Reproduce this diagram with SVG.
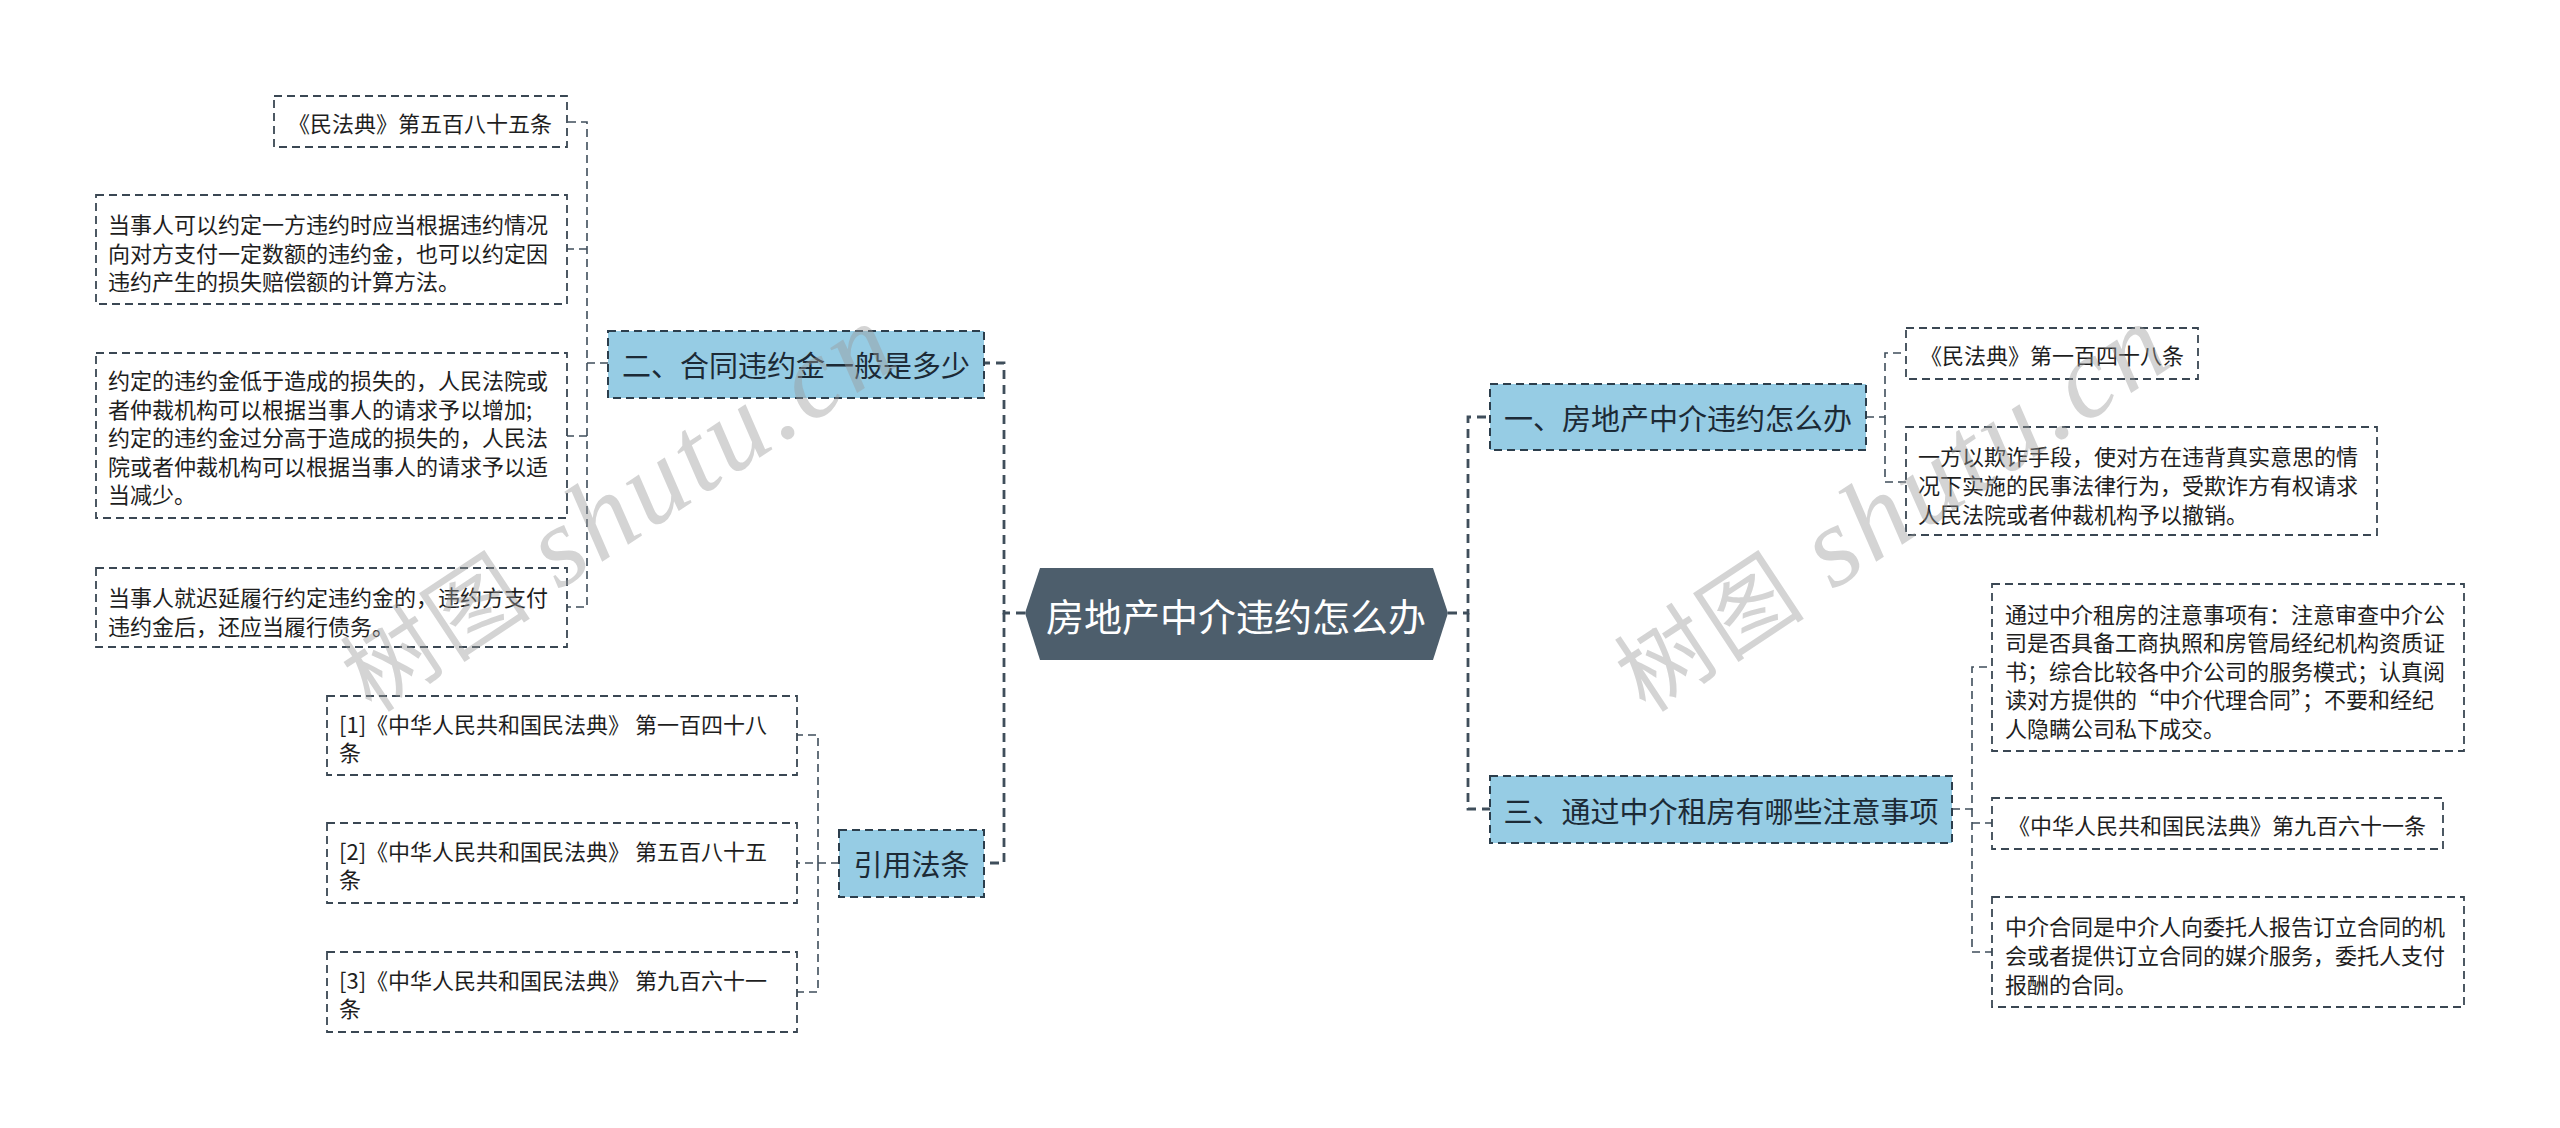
<svg xmlns="http://www.w3.org/2000/svg" width="2560" height="1128" viewBox="0 0 2560 1128">
<style>
  .bg { fill: #ffffff; }
  .leaf { fill: none; stroke: #3a4753; stroke-width: 1.8; stroke-dasharray: 8 5; }
  .topic { fill: #96cce4; stroke: #2c3e4c; stroke-width: 2; stroke-dasharray: 8 5; }
  .root { fill: #4d5e6c; }
  .t { font-family: 'Noto Sans CJK SC', 'Noto Sans', sans-serif; fill: #1e1e1e; font-size: 22px; dominant-baseline: central; }
  .tt { font-family: 'Noto Sans CJK SC', 'Noto Sans', sans-serif; fill: #1c2a36; font-size: 29px; dominant-baseline: central; text-anchor: middle; }
  .rt { font-family: 'Noto Sans CJK SC', 'Noto Sans', sans-serif; fill: #ffffff; font-size: 38px; dominant-baseline: central; text-anchor: middle; }
  .c1 { fill: none; stroke: #3f4e5b; stroke-width: 2.8; stroke-dasharray: 9 6; }
  .c2 { fill: none; stroke: #3f4e5b; stroke-width: 1.6; stroke-dasharray: 8 5; }
  .wm { font-family: 'Liberation Serif', 'Noto Sans CJK SC', serif; font-size: 94px; fill: #9a9a9a; opacity: 0.42; }
  .wl { font-family: 'Liberation Serif', serif; font-style: italic; font-size: 114px; }
</style>
<rect class="bg" x="0" y="0" width="2560" height="1128"/>

<g id="connectors">
  <path class="c1" d="M1025,613 H1004 V363 H984"/>
  <path class="c1" d="M1004,613 V863 H984"/>
  <path class="c1" d="M1448,613 H1468 V417 H1490"/>
  <path class="c1" d="M1468,613 V809 H1490"/>
  <path class="c2" d="M608,363 H587 V122 H567"/>
  <path class="c2" d="M587,249 H567"/>
  <path class="c2" d="M587,363 V607 H567"/>
  <path class="c2" d="M587,436 H567"/>
  <path class="c2" d="M839,863 H797"/>
  <path class="c2" d="M818,863 V735 H797"/>
  <path class="c2" d="M818,863 V992 H797"/>
  <path class="c2" d="M1866,417 H1885 V353 H1906"/>
  <path class="c2" d="M1885,417 V482 H1906"/>
  <path class="c2" d="M1952,809 H1972 V667 H1992"/>
  <path class="c2" d="M1972,809 V952 H1992"/>
  <path class="c2" d="M1972,823 H1992"/>
</g>

<g id="root">
  <polygon class="root" points="1025,613 1040,568 1433,568 1448,613 1433,660 1040,660"/>
  <text class="rt" x="1236" y="614">房地产中介违约怎么办</text>
</g>

<g id="topic-2">
  <rect class="topic" x="608" y="331" width="376" height="67"/>
  <text class="tt" x="796" y="364">二、合同违约金一般是多少</text>
</g>
<g id="leaf-2-1">
  <rect class="leaf" x="274" y="96" width="293" height="51"/>
  <text class="t" x="288" y="122">《民法典》第五百八十五条</text>
</g>
<g id="leaf-2-2">
  <rect class="leaf" x="96" y="195" width="471" height="109"/>
  <text class="t" x="108" y="223">当事人可以约定一方违约时应当根据违约情况</text>
  <text class="t" x="108" y="252">向对方支付一定数额的违约金，也可以约定因</text>
  <text class="t" x="108" y="280">违约产生的损失赔偿额的计算方法。</text>
</g>
<g id="leaf-2-3">
  <rect class="leaf" x="96" y="353" width="471" height="165"/>
  <text class="t" x="108" y="379">约定的违约金低于造成的损失的，人民法院或</text>
  <text class="t" x="108" y="408">者仲裁机构可以根据当事人的请求予以增加;</text>
  <text class="t" x="108" y="436">约定的违约金过分高于造成的损失的，人民法</text>
  <text class="t" x="108" y="465">院或者仲裁机构可以根据当事人的请求予以适</text>
  <text class="t" x="108" y="493">当减少。</text>
</g>
<g id="leaf-2-4">
  <rect class="leaf" x="96" y="568" width="471" height="79"/>
  <text class="t" x="108" y="596">当事人就迟延履行约定违约金的，违约方支付</text>
  <text class="t" x="108" y="625">违约金后，还应当履行债务。</text>
</g>

<g id="topic-refs">
  <rect class="topic" x="839" y="830" width="145" height="67"/>
  <text class="tt" x="911.5" y="863">引用法条</text>
</g>
<g id="ref-1">
  <rect class="leaf" x="327" y="696" width="470" height="79"/>
  <text class="t" x="339" y="723">[1]《中华人民共和国民法典》 第一百四十八</text>
  <text class="t" x="339" y="751">条</text>
</g>
<g id="ref-2">
  <rect class="leaf" x="327" y="823" width="470" height="80"/>
  <text class="t" x="339" y="850">[2]《中华人民共和国民法典》 第五百八十五</text>
  <text class="t" x="339" y="878">条</text>
</g>
<g id="ref-3">
  <rect class="leaf" x="327" y="952" width="470" height="80"/>
  <text class="t" x="339" y="979">[3]《中华人民共和国民法典》 第九百六十一</text>
  <text class="t" x="339" y="1007">条</text>
</g>

<g id="topic-1">
  <rect class="topic" x="1490" y="384" width="376" height="66"/>
  <text class="tt" x="1678" y="417">一、房地产中介违约怎么办</text>
</g>
<g id="leaf-1-1">
  <rect class="leaf" x="1906" y="328" width="292" height="51"/>
  <text class="t" x="1920" y="354">《民法典》第一百四十八条</text>
</g>
<g id="leaf-1-2">
  <rect class="leaf" x="1906" y="427" width="471" height="108"/>
  <text class="t" x="1918" y="455">一方以欺诈手段，使对方在违背真实意思的情</text>
  <text class="t" x="1918" y="484">况下实施的民事法律行为，受欺诈方有权请求</text>
  <text class="t" x="1918" y="513">人民法院或者仲裁机构予以撤销。</text>
</g>

<g id="topic-3">
  <rect class="topic" x="1490" y="776" width="462" height="67"/>
  <text class="tt" x="1721" y="810">三、通过中介租房有哪些注意事项</text>
</g>
<g id="leaf-3-1">
  <rect class="leaf" x="1992" y="584" width="472" height="167"/>
  <text class="t" x="2005" y="613">通过中介租房的注意事项有：注意审查中介公</text>
  <text class="t" x="2005" y="641">司是否具备工商执照和房管局经纪机构资质证</text>
  <text class="t" x="2005" y="670">书；综合比较各中介公司的服务模式；认真阅</text>
  <text class="t" x="2005" y="698">读对方提供的“中介代理合同”；不要和经纪</text>
  <text class="t" x="2005" y="727">人隐瞒公司私下成交。</text>
</g>
<g id="leaf-3-2">
  <rect class="leaf" x="1992" y="798" width="451" height="51"/>
  <text class="t" x="2008" y="824">《中华人民共和国民法典》第九百六十一条</text>
</g>
<g id="leaf-3-3">
  <rect class="leaf" x="1992" y="897" width="472" height="110"/>
  <text class="t" x="2005" y="925">中介合同是中介人向委托人报告订立合同的机</text>
  <text class="t" x="2005" y="954">会或者提供订立合同的媒介服务，委托人支付</text>
  <text class="t" x="2005" y="983">报酬的合同。</text>
</g>

<g id="watermark">
  <text class="wm" transform="translate(372,714) rotate(-33.5)" letter-spacing="4">树图 <tspan class="wl">shutu.cn</tspan></text>
  <text class="wm" transform="translate(1646,714) rotate(-33.5)" letter-spacing="4">树图 <tspan class="wl">shutu.cn</tspan></text>
</g>
</svg>
